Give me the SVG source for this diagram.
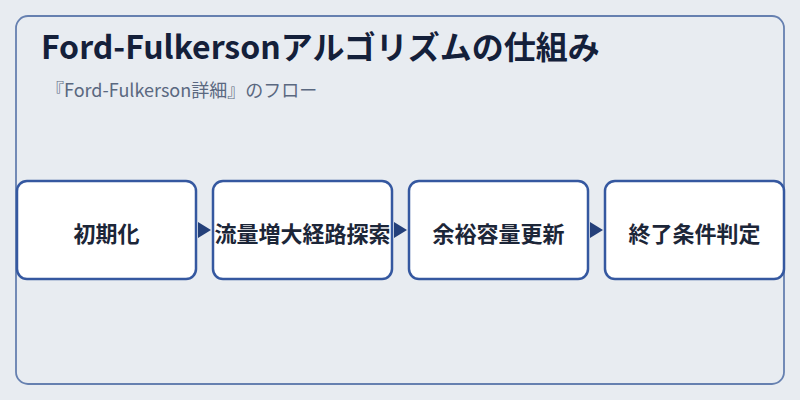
<svg xmlns="http://www.w3.org/2000/svg" width="800" height="400" viewBox="0 0 800 400">
<defs>
<style>
.node rect{fill:#ffffff;stroke:#3558a0;stroke-width:2.5}
.node text{font-family:"Noto Sans CJK JP","Noto Sans",sans-serif;font-size:22px;font-weight:bold;fill:#1c2638;text-anchor:middle;dominant-baseline:central}
.conn path{fill:#24407a;stroke:none}
</style>
</defs>
<rect x="0" y="0" width="800" height="400" fill="#e8ecf1"/>
<rect x="16" y="16" width="768" height="368" rx="12" fill="#e8ecf1" stroke="#6680b0" stroke-width="1.8"/>
<text x="41" y="59" font-family="'Noto Sans CJK JP','Noto Sans',sans-serif" font-size="32" font-weight="bold" fill="#14203a">Ford-Fulkersonアルゴリズムの仕組み</text>
<text x="46" y="97" font-family="'Noto Sans CJK JP','Noto Sans',sans-serif" font-size="18" fill="#5a6880">『Ford-Fulkerson詳細』のフロー</text>
<g class="conn" id="connectors">
<path d="M198,222 L211,230 L198,238 Z"/>
<path d="M394,222 L407,230 L394,238 Z"/>
<path d="M590,222 L603,230 L590,238 Z"/>
</g>
<g class="node" id="n1"><rect x="17" y="181" width="179" height="98" rx="10"/><text x="106.5" y="232">初期化</text></g>
<g class="node" id="n2"><rect x="213" y="181" width="179" height="98" rx="10"/><text x="302.5" y="232">流量増大経路探索</text></g>
<g class="node" id="n3"><rect x="409" y="181" width="179" height="98" rx="10"/><text x="498.5" y="232">余裕容量更新</text></g>
<g class="node" id="n4"><rect x="605" y="181" width="179" height="98" rx="10"/><text x="694.5" y="232">終了条件判定</text></g>
</svg>
